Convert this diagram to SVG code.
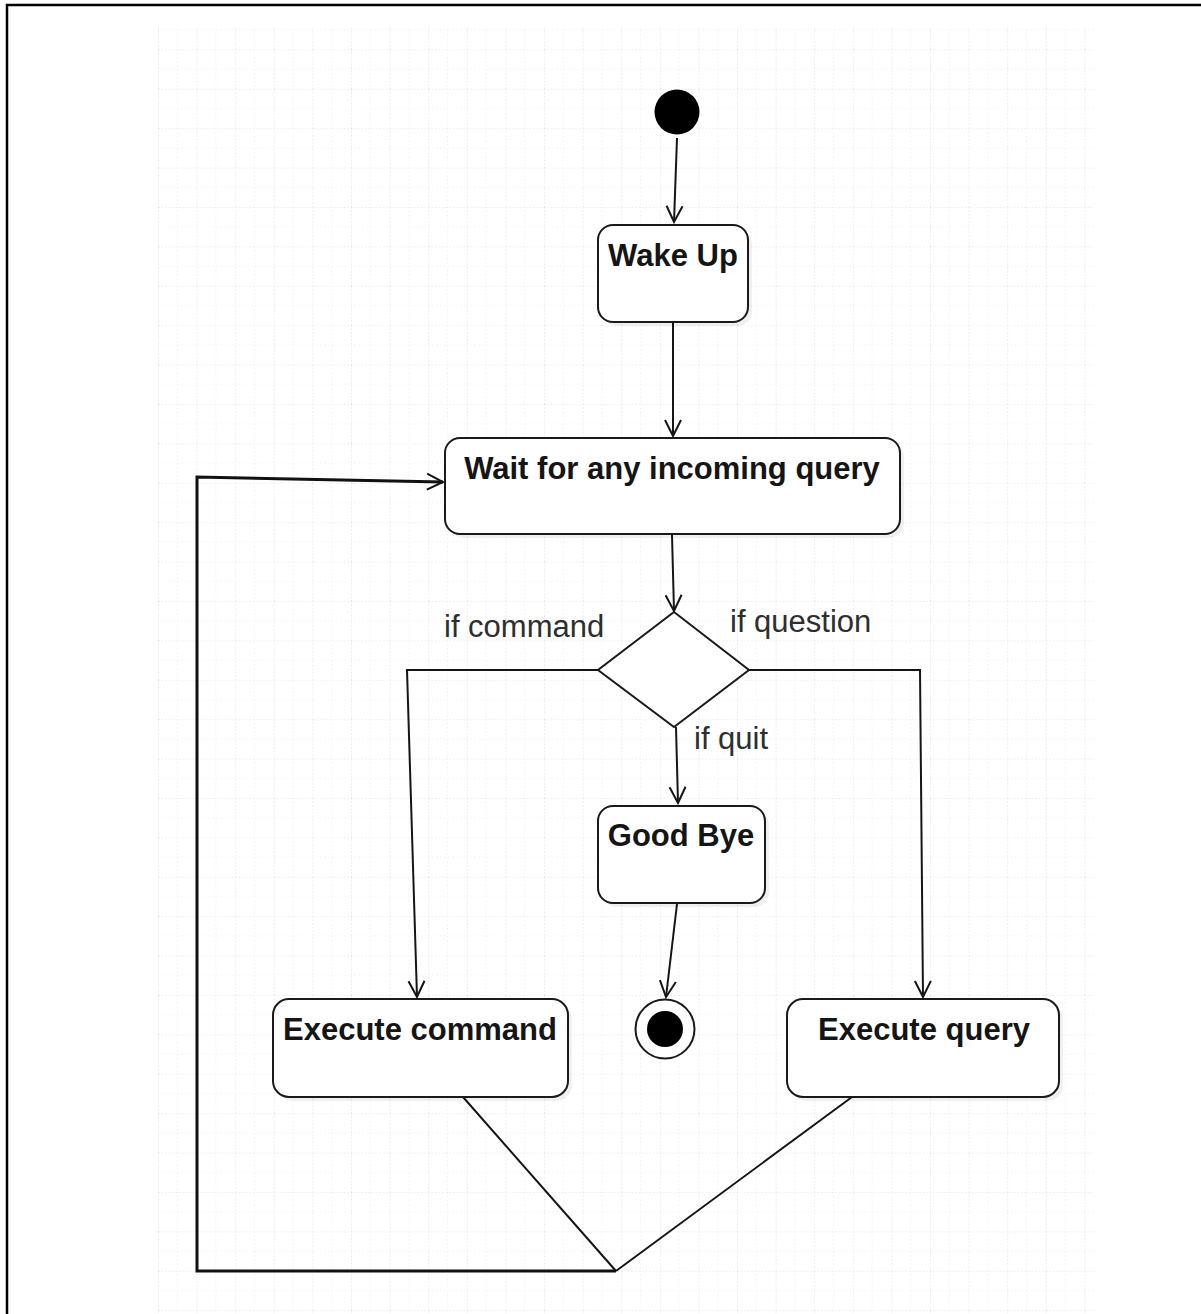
<svg xmlns="http://www.w3.org/2000/svg" width="1201" height="1314" viewBox="0 0 1201 1314">
  <style>
    .box { fill: #ffffff; stroke: #1a1a1a; stroke-width: 2; }
    .shadow { fill: #000000; opacity: 0.06; }
    .title { font-family: "Liberation Sans", Arial, sans-serif; font-weight: bold; font-size: 31px; fill: #151515; text-anchor: middle; }
    .guard { font-family: "Liberation Sans", Arial, sans-serif; font-size: 31px; fill: #2e2e2e; }
    .edge { fill: none; stroke: #151515; stroke-width: 2; }
    .loop { fill: none; stroke: #111111; stroke-width: 3; }
  </style>
  <defs>
    <pattern id="grid" x="158" y="10" width="38.6" height="39.4" patternUnits="userSpaceOnUse">
      <path d="M0 0 V39.4 M0 0 H38.6" fill="none" stroke="#dadada" stroke-width="1.2" stroke-dasharray="1.5 2"/>
      <path d="M19.3 0 V39.4 M0 19.7 H38.6" fill="none" stroke="#ececec" stroke-width="1" stroke-dasharray="1 3"/>
    </pattern>
    <marker id="open" viewBox="0 0 20 20" refX="18" refY="10" markerWidth="20" markerHeight="20" markerUnits="userSpaceOnUse" orient="auto">
      <path d="M2 2 L18 10 L2 18" fill="none" stroke="#151515" stroke-width="2"/>
    </marker>
  </defs>

  <!-- page background, frame and grid -->
  <rect x="0" y="0" width="1201" height="1314" fill="#ffffff"/>
  <rect x="158" y="27" width="937" height="1287" fill="url(#grid)"/>
  <path d="M7 1314 V5 H1201" fill="none" stroke="#000000" stroke-width="2.5"/>

  <!-- connectors -->
  <g id="connectors">
    <path class="edge" d="M677 138 L674 222" marker-end="url(#open)"/>
    <path class="edge" d="M673 322 L673 436" marker-end="url(#open)"/>
    <path class="edge" d="M672 535 L674 611" marker-end="url(#open)"/>
    <path class="edge" d="M598 670 H407 L417 997" marker-end="url(#open)"/>
    <path class="edge" d="M749 670 H920 L923 997" marker-end="url(#open)"/>
    <path class="edge" d="M676 727 L678 803" marker-end="url(#open)"/>
    <path class="edge" d="M677 904 L666 997" marker-end="url(#open)"/>
    <path class="edge" d="M463 1097 L616 1271"/>
    <path class="edge" d="M852 1097 L616 1271"/>
    <path class="loop" d="M616 1271 H197 V477 L443 482" marker-end="url(#open)"/>
  </g>

  <!-- start -->
  <g id="start">
    <circle cx="677" cy="112" r="22.5" fill="#000000"/>
  </g>

  <g id="wake-up">
    <rect class="shadow" x="602" y="229" width="150" height="97" rx="15"/>
    <rect class="box" x="598" y="225" width="150" height="97" rx="15"/>
    <text class="title" x="673" y="266">Wake Up</text>
  </g>

  <g id="wait-query">
    <rect class="shadow" x="449" y="442" width="455" height="96" rx="15"/>
    <rect class="box" x="445" y="438" width="455" height="96" rx="15"/>
    <text class="title" x="672" y="479">Wait for any incoming query</text>
  </g>

  <g id="decision">
    <polygon class="box" points="674,612 749,670 674,727 598,670"/>
  </g>

  <g id="guards">
    <text class="guard" x="444" y="637">if command</text>
    <text class="guard" x="730" y="632">if question</text>
    <text class="guard" x="694" y="749">if quit</text>
  </g>

  <g id="good-bye">
    <rect class="shadow" x="602" y="810" width="167" height="97" rx="15"/>
    <rect class="box" x="598" y="806" width="167" height="97" rx="15"/>
    <text class="title" x="681" y="846">Good Bye</text>
  </g>

  <g id="end">
    <circle cx="665" cy="1029" r="29.5" fill="#ffffff" stroke="#1a1a1a" stroke-width="2"/>
    <circle cx="665" cy="1029" r="18" fill="#000000"/>
  </g>

  <g id="execute-command">
    <rect class="shadow" x="277" y="1003" width="295" height="98" rx="16"/>
    <rect class="box" x="273" y="999" width="295" height="98" rx="16"/>
    <text class="title" x="420" y="1040">Execute command</text>
  </g>

  <g id="execute-query">
    <rect class="shadow" x="791" y="1003" width="272" height="98" rx="16"/>
    <rect class="box" x="787" y="999" width="272" height="98" rx="16"/>
    <text class="title" x="924" y="1040">Execute query</text>
  </g>
</svg>
